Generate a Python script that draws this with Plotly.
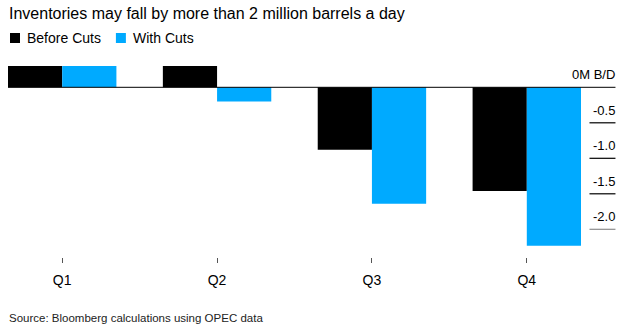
import plotly.graph_objects as go

# Quarterly inventory change, million barrels a day
quarters = ["Q1", "Q2", "Q3", "Q4"]
before_cuts = [0.30, 0.30, -0.88, -1.46]
with_cuts = [0.30, -0.20, -1.64, -2.23]

series_names = ["Before Cuts", "With Cuts"]
series_colors = ["#000000", "#00AAFF"]

y_ticks = [0, -0.5, -1.0, -1.5, -2.0]
y_tick_labels = ["0M B/D", "-0.5", "-1.0", "-1.5", "-2.0"]
y_tick_colors = ["#000000", "#000000", "#000000", "#000000", "#8c8c8c"]

title_text = "Inventories may fall by more than 2 million barrels a day"
source_text = "Source: Bloomberg calculations using OPEC data"

W, H = 636, 330
ML, MR, MT, MB = 8, 54.5, 60, 73
PLOT_W = W - ML - MR
PLOT_H = H - MT - MB
FONT = "Liberation Sans, Arial, Helvetica, sans-serif"


def px_x(px):
    """Pixel column -> paper x."""
    return (px - ML) / PLOT_W


def px_y(py):
    """Pixel row -> paper y."""
    return (H - MB - py) / PLOT_H


fig = go.Figure()
for name, color, vals in zip(series_names, series_colors, [before_cuts, with_cuts]):
    fig.add_trace(go.Bar(x=quarters, y=vals, name=name, marker=dict(color=color, line=dict(width=0)),
                         showlegend=False))

shapes = []
annotations = []

# zero baseline runs across the bars and under the right-hand axis labels
shapes.append(dict(type="line", xref="paper", yref="y", x0=0, x1=px_x(616), y0=0, y1=0,
                   line=dict(color="#000000", width=1)))
# short tick rules on the right-hand axis
for v, lab, c in zip(y_ticks, y_tick_labels, y_tick_colors):
    if v != 0:
        shapes.append(dict(type="line", xref="paper", yref="y", x0=px_x(590), x1=px_x(616), y0=v, y1=v,
                           line=dict(color=c, width=1.2)))
    annotations.append(dict(x=px_x(616), y=v, xref="paper", yref="y", text=lab, showarrow=False,
                            xanchor="right", yanchor="bottom", yshift=3, xshift=2,
                            font=dict(family=FONT, size=13, color="#000000")))

# legend swatches and labels
legend_boxes = [(10, 20, 25), (116, 126, 131)]
for (x0, x1, tx), name, color in zip(legend_boxes, series_names, series_colors):
    shapes.append(dict(type="rect", xref="paper", yref="paper", x0=px_x(x0), x1=px_x(x1),
                       y0=px_y(43), y1=px_y(33), fillcolor=color, line=dict(width=0)))
    annotations.append(dict(x=px_x(tx), y=px_y(38), xref="paper", yref="paper", text=name,
                            showarrow=False, xanchor="left", yanchor="middle",
                            font=dict(family=FONT, size=14, color="#000000")))

# title and source line
annotations.append(dict(x=px_x(7), y=px_y(14), xref="paper", yref="paper", text=title_text,
                        showarrow=False, xanchor="left", yanchor="middle",
                        font=dict(family=FONT, size=16, color="#000000")))
annotations.append(dict(x=px_x(7), y=px_y(318), xref="paper", yref="paper", text=source_text,
                        showarrow=False, xanchor="left", yanchor="middle",
                        font=dict(family=FONT, size=11.5, color="#222222")))

fig.update_layout(
    width=W, height=H,
    margin=dict(l=ML, r=MR, t=MT, b=MB, pad=0),
    paper_bgcolor="white", plot_bgcolor="white",
    barmode="group", bargap=0.3, bargroupgap=0,
    shapes=shapes, annotations=annotations,
    xaxis=dict(type="category", range=[-0.35, 3.35], showgrid=False, zeroline=False, showline=False,
               ticks="outside", ticklen=5, tickwidth=1, tickcolor="#555555", ticklabelstandoff=5,
               tickfont=dict(family=FONT, size=14, color="#000000")),
    yaxis=dict(range=[-(H - MB - 87.3) / 71.0, (87.3 - MT) / 71.0], visible=False,
               showgrid=False, zeroline=False),
)

fig.write_html("out.html")
